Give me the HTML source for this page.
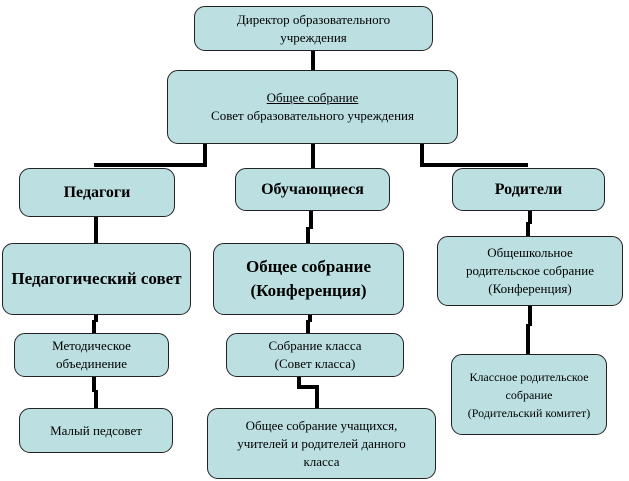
<!DOCTYPE html>
<html><head><meta charset="utf-8"><style>
body{margin:0;width:629px;height:481px;background:#fff;position:relative;overflow:hidden;font-family:"Liberation Serif","DejaVu Serif",serif;}
.b{position:absolute;box-sizing:border-box;background:#bce0e2;border:1px solid #222;border-radius:11px;display:flex;align-items:center;justify-content:center;text-align:center;color:#000;font-size:13px;line-height:18px;}
.h{font-weight:bold;font-size:16px;}
.l{position:absolute;background:#000;}
</style></head><body>
<!-- connectors -->
<div class="l" style="left:311px;top:50px;width:4px;height:21px"></div>
<div class="l" style="left:203px;top:143px;width:4px;height:24px"></div>
<div class="l" style="left:94px;top:163px;width:113px;height:4px"></div>
<div class="l" style="left:311px;top:143px;width:4px;height:26px"></div>
<div class="l" style="left:420px;top:143px;width:4px;height:24px"></div>
<div class="l" style="left:420px;top:163px;width:108px;height:4px"></div>
<div class="l" style="left:94px;top:216px;width:4px;height:28px"></div>
<div class="l" style="left:309px;top:210px;width:4px;height:19px"></div>
<div class="l" style="left:306px;top:227px;width:4px;height:17px"></div>
<div class="l" style="left:528px;top:210px;width:4px;height:14px"></div>
<div class="l" style="left:526px;top:222px;width:4px;height:15px"></div>
<div class="l" style="left:94px;top:314px;width:4px;height:8px"></div>
<div class="l" style="left:92px;top:320px;width:4px;height:14px"></div>
<div class="l" style="left:92px;top:376px;width:4px;height:16px"></div>
<div class="l" style="left:94px;top:390px;width:4px;height:19px"></div>
<div class="l" style="left:308px;top:314px;width:4px;height:8px"></div>
<div class="l" style="left:306px;top:320px;width:4px;height:14px"></div>
<div class="l" style="left:297px;top:376px;width:4px;height:12px"></div>
<div class="l" style="left:297px;top:385px;width:20px;height:4px"></div>
<div class="l" style="left:315px;top:385px;width:4px;height:24px"></div>
<div class="l" style="left:528px;top:306px;width:4px;height:20px"></div>
<div class="l" style="left:526px;top:324px;width:4px;height:31px"></div>
<!-- boxes -->
<div class="b" style="left:194px;top:6px;width:239px;height:45px">Директор образовательного<br>учреждения</div>
<div class="b" style="left:167px;top:70px;width:291px;height:74px"><div><u>Общее собрание</u><br>Совет образовательного учреждения</div></div>
<div class="b h" style="left:19px;top:168px;width:156px;height:49px">Педагоги</div>
<div class="b h" style="left:235px;top:168px;width:155px;height:43px">Обучающиеся</div>
<div class="b h" style="left:452px;top:168px;width:153px;height:43px">Родители</div>
<div class="b h" style="left:2px;top:243px;width:189px;height:72px;font-size:17px">Педагогический совет</div>
<div class="b h" style="left:213px;top:243px;width:191px;height:72px;font-size:17px;line-height:24px">Общее собрание<br>(Конференция)</div>
<div class="b" style="left:437px;top:236px;width:186px;height:70px">Общешкольное<br>родительское собрание<br>(Конференция)</div>
<div class="b" style="left:14px;top:333px;width:155px;height:44px">Методическое<br>объединение</div>
<div class="b" style="left:226px;top:333px;width:178px;height:44px">Собрание класса<br>(Совет класса)</div>
<div class="b" style="left:19px;top:408px;width:154px;height:45px">Малый педсовет</div>
<div class="b" style="left:207px;top:408px;width:229px;height:71px">Общее собрание учащихся,<br>учителей и родителей данного<br>класса</div>
<div class="b" style="left:451px;top:354px;width:156px;height:81px;font-size:12px">Классное родительское<br>собрание<br>(Родительский комитет)</div>
</body></html>
